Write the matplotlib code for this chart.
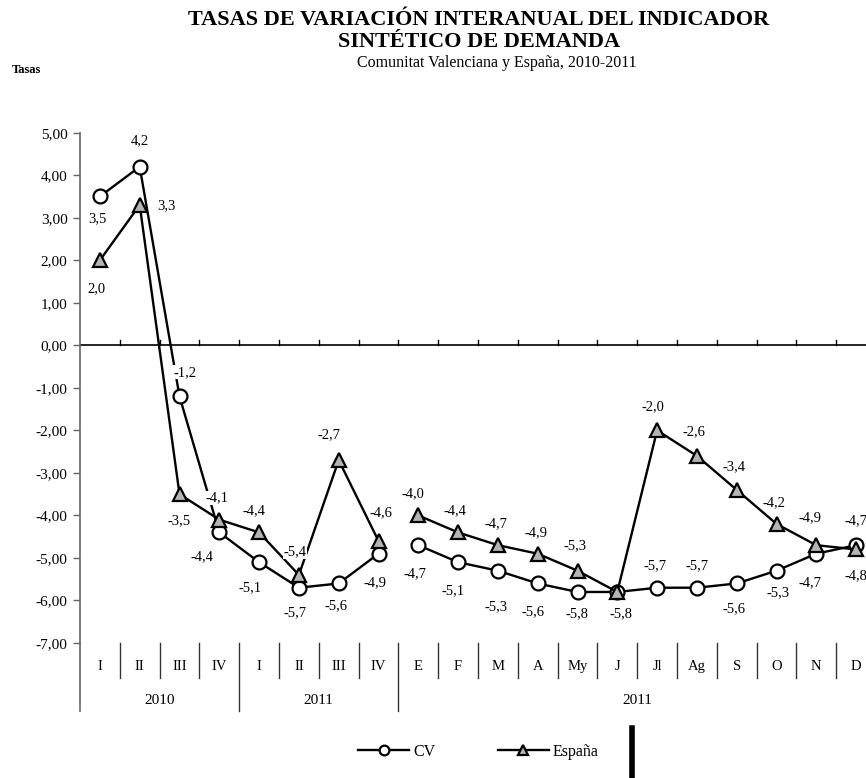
import matplotlib.pyplot as plt
from matplotlib.lines import Line2D

plt.rcParams['font.family'] = ['Liberation Serif', 'DejaVu Serif']

# datos
categorias = ['I', 'II', 'III', 'IV', 'I', 'II', 'III', 'IV',
              'E', 'F', 'M', 'A', 'My', 'J', 'Jl', 'Ag', 'S', 'O', 'N', 'D']
grupos = ['2010', '2011', '2011']
cv = [3.5, 4.2, -1.2, -4.4, -5.1, -5.7, -5.6, -4.9,
      -4.7, -5.1, -5.3, -5.6, -5.8, -5.8, -5.7, -5.7, -5.6, -5.3, -4.9, -4.7]
espana = [2.0, 3.3, -3.5, -4.1, -4.4, -5.4, -2.7, -4.6,
          -4.0, -4.4, -4.7, -4.9, -5.3, -5.8, -2.0, -2.6, -3.4, -4.2, -4.7, -4.8]
yticks = [5, 4, 3, 2, 1, 0, -1, -2, -3, -4, -5, -6, -7]

# posicion de las etiquetas (pixeles respecto al marcador)
off_cv = [(-2, -22), (0, 26), (5, 24), (-17, -24), (-9, -25), (-4, -25), (-3, -22), (-3, -29),
          (-3, -28), (-5, -28), (-2, -36), (-5, -28), (-1, -22), (4, -22), (-2, 22), (0, 22),
          (-3, -25), (2, -22), (-6, 36), (0, 25)]
off_es = [(-3, -28), (27, -1), (0, -27), (-2, 22), (-5, 22), (-4, 23), (-10, 25), (2, 28),
          (-5, 22), (-3, 22), (-2, 22), (-2, 21), (-2, 25), None, (-4, 24), (-3, 24),
          (-3, 23), (-3, 21), (-6, -37), (0, -26)]

fig = plt.figure(figsize=(8.66, 7.78), dpi=100)
ax = fig.add_axes([80 / 866, 1 - 643 / 778, 796 / 866, 510.3 / 778])

x = list(range(len(categorias)))
estilo_cv = dict(color='black', lw=1.7, marker='o', ms=10, mfc='white', mec='black', mew=1.6, zorder=3)
estilo_es = dict(color='black', lw=1.7, marker='^', ms=10, mfc='#b4b4b4', mec='black', mew=1.6, zorder=3)
for a, b in [(0, 8), (8, 20)]:
    ax.plot(x[a:b], cv[a:b], **estilo_cv)
    ax.plot(x[a:b], espana[a:b], **estilo_es)

def fmt(v):
    return ('%.1f' % v).replace('.', ',')

for serie, offs in [(cv, off_cv), (espana, off_es)]:
    for i, v in enumerate(serie):
        if offs[i] is None:
            continue
        ax.annotate(fmt(v), (i, v), xytext=offs[i], textcoords='offset pixels',
                    ha='center', va='center', fontsize=10.5, zorder=5,
                    bbox=dict(facecolor='white', edgecolor='none', pad=0.3))

ax.set_xlim(-0.5, 19.5)
ax.set_ylim(-7, 5)
ax.set_yticks(yticks)
ax.set_yticklabels([('%.2f' % t).replace('.', ',') for t in yticks], fontsize=11)
ax.tick_params(axis='y', direction='out', length=5, width=1, color='#666666', pad=4)
ax.set_xticks([])
for s in ['top', 'right', 'bottom']:
    ax.spines[s].set_visible(False)
ax.spines['left'].set_color('#666666')
ax.spines['left'].set_linewidth(1.2)

# eje horizontal en cero
ax.axhline(0, color='black', lw=1.2, zorder=2)
for i in range(1, 20):
    ax.plot([i - 0.5, i - 0.5], [0, 0.13], color='black', lw=1, zorder=2)

# etiquetas de categorias debajo
tr = ax.get_xaxis_transform()
for i, c in enumerate(categorias):
    ax.text(i, -0.047, c, transform=tr, ha='center', va='center', fontsize=10.5)
    if i > 0:
        largo = -0.133 if i in (4, 8) else -0.069
        ax.plot([i - 0.5, i - 0.5], [0, largo], transform=tr, color='#333333', lw=1, clip_on=False)
ax.plot([-0.5, -0.5], [0, -0.133], transform=tr, color='#666666', lw=1.2, clip_on=False)
for g, centro in zip(grupos, [1.5, 5.5, 13.5]):
    ax.text(centro, -0.112, g, transform=tr, ha='center', va='center', fontsize=11)

# titulos
fig.text(0.553, 1 - 20 / 778, 'TASAS DE VARIACIÓN INTERANUAL DEL INDICADOR',
         ha='center', va='center', fontsize=16, fontweight='bold')
fig.text(0.553, 1 - 42 / 778, 'SINTÉTICO DE DEMANDA',
         ha='center', va='center', fontsize=16, fontweight='bold')
fig.text(0.574, 1 - 63 / 778, 'Comunitat Valenciana y España, 2010-2011',
         ha='center', va='center', fontsize=11.5)
fig.text(12 / 866, 1 - 70 / 778, 'Tasas', ha='left', va='center', fontsize=9, fontweight='bold')

# leyenda
h1 = Line2D([], [], color='black', lw=1.7, marker='o', ms=7, mfc='white', mec='black', mew=1.6)
h2 = Line2D([], [], color='black', lw=1.7, marker='^', ms=7, mfc='#b4b4b4', mec='black', mew=1.6)
fig.legend([h1, h2], ['CV', 'España'], loc='center', bbox_to_anchor=(0.5525, 1 - 752 / 778),
           ncol=2, frameon=False, handlelength=3.2, columnspacing=3.9, handletextpad=0.25,
           fontsize=11.5)

fig.add_artist(Line2D([632 / 866, 632 / 866], [0, 1 - 728 / 778], color='black', lw=4))

fig.savefig('out.png', dpi=100)
